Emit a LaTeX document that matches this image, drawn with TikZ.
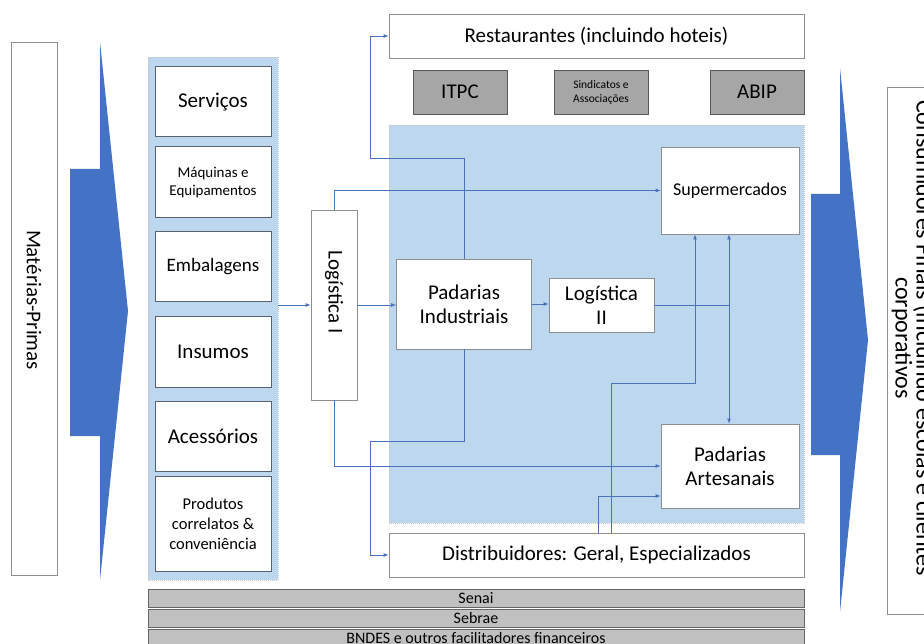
\documentclass[tikz,border=0pt]{standalone}
\usepackage{fontspec}
\setmainfont{Carlito}
\usetikzlibrary{arrows.meta,calc}

\definecolor{arrowblue}{HTML}{4472C4}
\definecolor{paleblue}{HTML}{BDD7EE}
\definecolor{linkblue}{HTML}{4A72B8}
\definecolor{boxedge}{HTML}{59636F}
\definecolor{softedge}{HTML}{8E8E8E}
\definecolor{orggray}{HTML}{A6A6A6}
\definecolor{bargray}{HTML}{C0C0C0}

\tikzset{
  x=1pt, y=-1pt,
  big/.style={font=\fontsize{21}{24}\selectfont},
  plain/.style={draw=softedge, line width=0.8pt, fill=white, inner sep=0pt, align=center},
  supply/.style={draw=boxedge, line width=1pt, fill=white, minimum width=116pt, inner sep=0pt, align=center},
  org/.style={draw=gray!70!black, fill=orggray, line width=0.6pt, minimum width=94pt, minimum height=44pt, inner sep=0pt, align=center},
  bar/.style={draw=gray!80!black, fill=bargray, line width=0.6pt, minimum width=656pt, minimum height=18pt, inner sep=0pt, font=\fontsize{16}{18}\selectfont},
  link/.style={draw=linkblue, line width=0.8pt},
  flow/.style={link, -{Latex[length=5pt,width=4pt]}},
  region/.style={fill=paleblue, draw=gray!45, dash pattern=on 1pt off 1pt, line width=0.6pt},
}

\begin{document}
\begin{tikzpicture}
\useasboundingbox (0,0) rectangle (924,644);
\clip (0,0) rectangle (924,644);
\fill[white] (0,0) rectangle (924,644);

% raw materials column and its flow arrow
\node[plain, minimum width=46pt, minimum height=533pt] (mp) at (34,308.5) {};
\node[big, rotate=-90] (mptext) at (34,300) {Matérias-Primas};
\fill[arrowblue] (70,169) -- (100,169) -- (100,42) -- (128,311) -- (100,580) -- (100,436) -- (70,436) -- cycle;

% supplier group
\node[region, minimum width=130pt, minimum height=523pt, inner sep=0pt] (sup) at (213,318.5) {};
\node[supply, big, minimum height=70pt] (sv) at (213,102) {Serviços};
\node[supply, minimum height=71pt, font=\fontsize{15}{18}\selectfont] (mq) at (213,182.5) {Máquinas e\\Equipamentos};
\node[supply, minimum height=70pt, font=\fontsize{19}{22}\selectfont] (em) at (213,267) {Embalagens};
\node[supply, big, minimum height=70pt] (ins) at (213,352) {Insumos};
\node[supply, big, minimum height=70pt] (ac) at (213,436) {Acessórios};
\node[supply, minimum height=95pt, font=\fontsize{16.5}{20}\selectfont] (pc) at (213,523.5) {Produtos\\correlatos \&\\conveniência};

% first logistics stage
\node[plain, minimum width=46pt, minimum height=190pt] (l1) at (334,305) {};
\node[big, rotate=-90] (l1text) at (334,292) {Logística I};

% channel region
\node[region, minimum width=415pt, minimum height=398pt, inner sep=0pt] (core) at (596.5,324) {};

\node[plain, big, minimum width=415pt, minimum height=44pt] (rest) at (596.5,36) {Restaurantes (incluindo hoteis)};
\node[org, big] (itpc) at (460,92) {ITPC};
\node[org, font=\fontsize{11.5}{14}\selectfont] (sind) at (601,92) {Sindicatos e\\Associações};
\node[org, big] (abip) at (757,92) {ABIP};

\node[plain, font=\fontsize{18}{21}\selectfont, minimum width=138pt, minimum height=87pt] (sm) at (730,190.5) {Supermercados};
\node[plain, big, minimum width=135pt, minimum height=90pt] (pi) at (464,304) {Padarias\\Industriais};
\node[plain, big, minimum width=105pt, minimum height=54pt] (l2) at (601.5,305) {Logística\\II};
\node[plain, big, minimum width=138pt, minimum height=84pt] (pa) at (730,466) {Padarias\\Artesanais};

\node[plain, big, minimum width=415pt, minimum height=44pt] (dist) at (596.5,555) {Distribuidores: Geral, Especializados};

% support institutions
\node[bar] (senai) at (476,598) {Senai};
\node[bar] (sebrae) at (476,618) {Sebrae};
\node[bar] (bndes) at (476,638) {BNDES e outros facilitadores financeiros};

% final consumers column and its flow arrow
\fill[arrowblue] (811,194) -- (840,194) -- (840,68) -- (868,340) -- (840,612) -- (840,455) -- (811,455) -- cycle;
\node[plain, minimum width=60pt, minimum height=527pt] (cf) at (917,350.5) {};
\node[rotate=-90, align=center, font=\fontsize{24}{21}\selectfont] (cftext) at (913,338)
  {Consumidores Finais (incluindo escolas e clientes\\corporativos};

% bend points of the connectors
\coordinate (b1) at (370,158);
\coordinate (b2) at (370,441);
\coordinate (j) at (729,305);
\coordinate (d1) at (611,383);
\coordinate (s1) at (695,383);
\coordinate (d2) at (598,496);

% connectors
\draw[flow] (l1.west -| sup.east) -- (l1.west);
\draw[flow] (l1.east) -- (l1.east -| pi.west);
\draw[flow] (l1.north) |- (sm.west);
\draw[flow] (l1.south) |- (pa.west);
\draw[flow] (pi.north) |- (b1) |- (rest.west);
\draw[flow] (pi.south) |- (b2) |- (dist.west);
\draw[flow] (pi.east) -- (pi.east -| l2.west);
\draw[link] (l2.east) -- (j);
\draw[flow] (j) -- (j |- sm.south);
\draw[flow] (j) -- (j |- pa.north);
\draw[flow] (d1 |- dist.north) -- (d1) -- (s1) -- (s1 |- sm.south);
\draw[flow] (d2 |- dist.north) -- (d2) -- (d2 -| pa.west);
\end{tikzpicture}
\end{document}
